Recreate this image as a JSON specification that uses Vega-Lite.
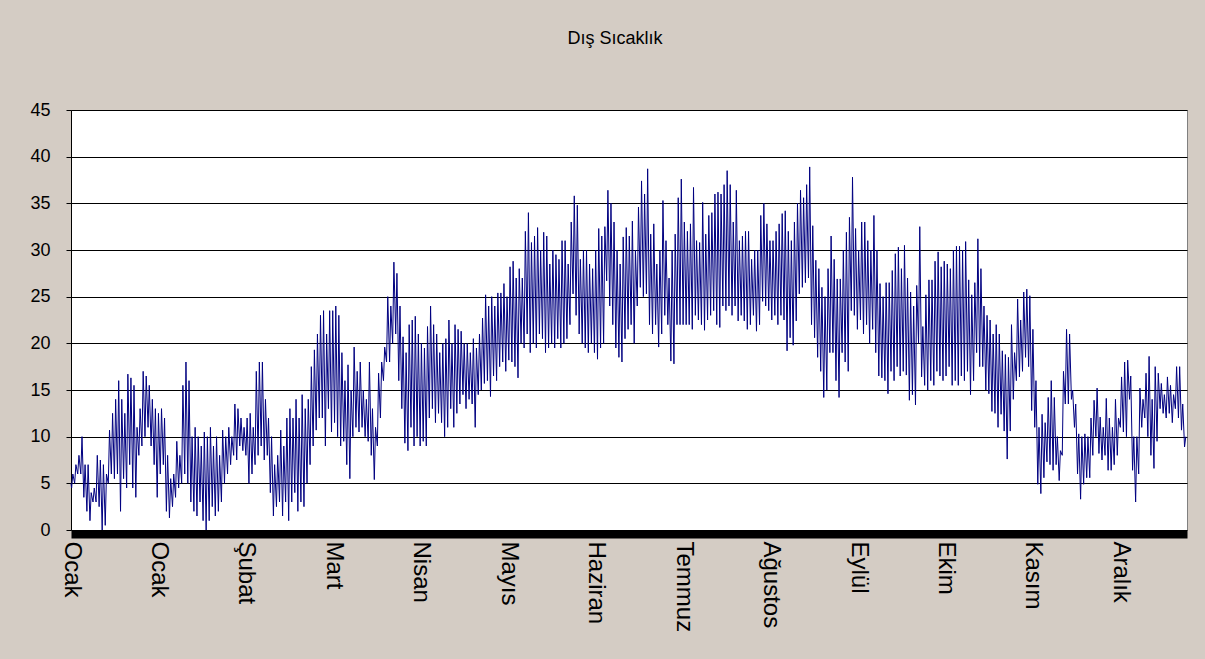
{
"$schema":"https://vega.github.io/schema/vega-lite/v6.json",
"width":1116,"height":420,
"autosize":{"type":"none"},
"padding":{"left":71,"top":110,"right":18,"bottom":129},
"background":"#d4ccc4",
"config":{"font":"Liberation Sans","view":{"stroke":"#808080","fill":"#ffffff","strokeWidth":1}},
"title":{"text":"Dış Sıcaklık","fontSize":18,"font":"Liberation Sans","fontWeight":"normal","color":"#000000","anchor":"middle","offset":53,"dx":-14},
"data":{"values":[
{"d":0,"t":5},{"d":0.2,"t":4.5},{"d":0.6,"t":6},{"d":1.2,"t":5},{"d":1.6,"t":7},{"d":2.2,"t":6},{"d":2.6,"t":8},{"d":3.2,"t":6},{"d":3.6,"t":10},{"d":4.2,"t":3.5},{"d":4.6,"t":7},{"d":5.2,"t":2},{"d":5.6,"t":7},{"d":6.2,"t":1},{"d":6.6,"t":4},{"d":7.2,"t":3},{"d":7.6,"t":4.5},{"d":8.2,"t":3},{"d":8.6,"t":8},{"d":9.2,"t":2.5},{"d":9.6,"t":7.5},
{"d":10.2,"t":0},{"d":10.6,"t":7},{"d":11.2,"t":0.5},{"d":11.6,"t":6},{"d":12.2,"t":5},{"d":12.6,"t":10.7},{"d":13.2,"t":6},{"d":13.6,"t":12.5},{"d":14.2,"t":5.5},{"d":14.6,"t":14},{"d":15.2,"t":6},{"d":15.6,"t":16},{"d":16.2,"t":2},{"d":16.6,"t":14},{"d":17.2,"t":5.5},{"d":17.6,"t":12.5},{"d":18.2,"t":4.5},{"d":18.6,"t":16.7},{"d":19.2,"t":7},{"d":19.6,"t":16.3},
{"d":20.2,"t":4.5},{"d":20.6,"t":15.5},{"d":21.2,"t":3.5},{"d":21.6,"t":11},{"d":22.2,"t":8},{"d":22.6,"t":13},{"d":23.2,"t":9},{"d":23.6,"t":17},{"d":24.2,"t":10},{"d":24.6,"t":16.5},{"d":25.2,"t":11},{"d":25.6,"t":15.5},{"d":26.2,"t":9},{"d":26.6,"t":14},{"d":27.2,"t":7},{"d":27.6,"t":13},{"d":28.2,"t":3.5},{"d":28.6,"t":12.5},{"d":29.2,"t":6},{"d":29.6,"t":13},
{"d":30.2,"t":7},{"d":30.6,"t":12},{"d":31.2,"t":2},{"d":31.6,"t":8},{"d":32.2,"t":1.3},{"d":32.6,"t":5.5},{"d":33.2,"t":2.5},{"d":33.6,"t":6},{"d":34.2,"t":3.5},{"d":34.6,"t":9.5},{"d":35.2,"t":4.5},{"d":35.6,"t":8},{"d":36.2,"t":5},{"d":36.6,"t":15.5},{"d":37.2,"t":6},{"d":37.6,"t":18},{"d":38.2,"t":5},{"d":38.6,"t":16},{"d":39.2,"t":3},{"d":39.6,"t":10},
{"d":40.2,"t":2},{"d":40.6,"t":11},{"d":41.2,"t":1.5},{"d":41.6,"t":10},{"d":42.2,"t":3},{"d":42.6,"t":9},{"d":43.2,"t":1},{"d":43.6,"t":10.5},{"d":44.2,"t":0},{"d":44.6,"t":10},{"d":45.2,"t":1},{"d":45.6,"t":11},{"d":46.2,"t":2.5},{"d":46.6,"t":9},{"d":47.2,"t":1.5},{"d":47.6,"t":10},{"d":48.2,"t":2},{"d":48.6,"t":8},{"d":49.2,"t":3},{"d":49.6,"t":10.7},
{"d":50.2,"t":5},{"d":50.6,"t":10},{"d":51.2,"t":6},{"d":51.6,"t":11},{"d":52.2,"t":7},{"d":52.6,"t":10},{"d":53.2,"t":8},{"d":53.6,"t":13.5},{"d":54.2,"t":7.5},{"d":54.6,"t":13},{"d":55.2,"t":9},{"d":55.6,"t":12},{"d":56.2,"t":8.5},{"d":56.6,"t":11},{"d":57.2,"t":8},{"d":57.6,"t":12},{"d":58.2,"t":5},{"d":58.6,"t":12.5},{"d":59.2,"t":6},{"d":59.6,"t":11},
{"d":60.2,"t":7},{"d":60.6,"t":17},{"d":61.2,"t":8},{"d":61.6,"t":18},{"d":62.2,"t":9},{"d":62.6,"t":18},{"d":63.2,"t":7.5},{"d":63.6,"t":14},{"d":64.2,"t":8},{"d":64.6,"t":12},{"d":65.2,"t":4},{"d":65.6,"t":10},{"d":66.2,"t":1.5},{"d":66.6,"t":7},{"d":67.2,"t":2.5},{"d":67.6,"t":8},{"d":68.2,"t":3},{"d":68.6,"t":10.7},{"d":69.2,"t":1.5},{"d":69.6,"t":9},
{"d":70.2,"t":3},{"d":70.6,"t":12},{"d":71.2,"t":1},{"d":71.6,"t":13},{"d":72.2,"t":3},{"d":72.6,"t":12},{"d":73.2,"t":4},{"d":73.6,"t":14},{"d":74.2,"t":2},{"d":74.6,"t":12},{"d":75.2,"t":3},{"d":75.6,"t":14.5},{"d":76.2,"t":2.5},{"d":76.6,"t":13},{"d":77.2,"t":5},{"d":77.6,"t":14},{"d":78.2,"t":7},{"d":78.6,"t":17.5},{"d":79.2,"t":9},{"d":79.6,"t":19.3},
{"d":80.2,"t":10.7},{"d":80.6,"t":21},{"d":81.2,"t":12},{"d":81.6,"t":23},{"d":82.2,"t":12},{"d":82.6,"t":23.5},{"d":83.2,"t":9},{"d":83.6,"t":21},{"d":84.2,"t":13},{"d":84.6,"t":23.5},{"d":85.2,"t":10.5},{"d":85.6,"t":23.5},{"d":86.2,"t":11.5},{"d":86.6,"t":24},{"d":87.2,"t":10},{"d":87.6,"t":23},{"d":88.2,"t":9},{"d":88.6,"t":19},{"d":89.2,"t":9.5},{"d":89.6,"t":16},
{"d":90.2,"t":7},{"d":90.6,"t":17.7},{"d":91.2,"t":5.5},{"d":91.6,"t":15},{"d":92.2,"t":10},{"d":92.6,"t":19.6},{"d":93.2,"t":11},{"d":93.6,"t":17},{"d":94.2,"t":10.5},{"d":94.6,"t":18},{"d":95.2,"t":11},{"d":95.6,"t":15},{"d":96.2,"t":10},{"d":96.6,"t":14},{"d":97.2,"t":9.5},{"d":97.6,"t":18},{"d":98.2,"t":8},{"d":98.6,"t":13},{"d":99.2,"t":5.4},{"d":99.6,"t":11},
{"d":100.2,"t":9},{"d":100.6,"t":16.8},{"d":101.2,"t":12},{"d":101.6,"t":18},{"d":102.2,"t":16},{"d":102.6,"t":19.6},{"d":103.2,"t":18},{"d":103.6,"t":25},{"d":104.2,"t":18},{"d":104.6,"t":24},{"d":105.2,"t":20},{"d":105.6,"t":28.7},{"d":106.2,"t":21},{"d":106.6,"t":27.5},{"d":107.2,"t":16},{"d":107.6,"t":24},{"d":108.2,"t":13},{"d":108.6,"t":20.7},{"d":109.2,"t":9.3},{"d":109.6,"t":19},
{"d":110.2,"t":8.5},{"d":110.6,"t":22},{"d":111.2,"t":11},{"d":111.6,"t":22.5},{"d":112.2,"t":9},{"d":112.6,"t":22.9},{"d":113.2,"t":10},{"d":113.6,"t":21},{"d":114.2,"t":9},{"d":114.6,"t":20},{"d":115.2,"t":9.5},{"d":115.6,"t":19.5},{"d":116.2,"t":9},{"d":116.6,"t":21.8},{"d":117.2,"t":12},{"d":117.6,"t":24},{"d":118.2,"t":13},{"d":118.6,"t":22},{"d":119.2,"t":11.5},{"d":119.6,"t":21},
{"d":120.2,"t":12.5},{"d":120.6,"t":19},{"d":121.2,"t":11.5},{"d":121.6,"t":20},{"d":122.2,"t":10},{"d":122.6,"t":20.5},{"d":123.2,"t":11},{"d":123.6,"t":22.5},{"d":124.2,"t":13},{"d":124.6,"t":20},{"d":125.2,"t":11},{"d":125.6,"t":22},{"d":126.2,"t":12.5},{"d":126.6,"t":21.5},{"d":127.2,"t":13.5},{"d":127.6,"t":21.3},{"d":128.2,"t":14.5},{"d":128.6,"t":20},{"d":129.2,"t":13},{"d":129.6,"t":20},
{"d":130.2,"t":14},{"d":130.6,"t":19},{"d":131.2,"t":13.5},{"d":131.6,"t":20.5},{"d":132.2,"t":11},{"d":132.6,"t":19.5},{"d":133.2,"t":14.5},{"d":133.6,"t":21},{"d":134.2,"t":15},{"d":134.6,"t":22.7},{"d":135.2,"t":15.7},{"d":135.6,"t":25.2},{"d":136.2,"t":16},{"d":136.6,"t":24},{"d":137.2,"t":14.3},{"d":137.6,"t":25},{"d":138.2,"t":16.5},{"d":138.6,"t":24},{"d":139.2,"t":16},{"d":139.6,"t":25.4},
{"d":140.2,"t":17.5},{"d":140.6,"t":25.4},{"d":141.2,"t":18},{"d":141.6,"t":26.4},{"d":142.2,"t":17},{"d":142.6,"t":25},{"d":143.2,"t":18.2},{"d":143.6,"t":28.2},{"d":144.2,"t":18},{"d":144.6,"t":28.8},{"d":145.2,"t":17.5},{"d":145.6,"t":27},{"d":146.2,"t":16.3},{"d":146.6,"t":28},{"d":147.2,"t":20},{"d":147.6,"t":27},{"d":148.2,"t":19.5},{"d":148.6,"t":32},{"d":149.2,"t":21},{"d":149.6,"t":34},
{"d":150.2,"t":19},{"d":150.6,"t":30.8},{"d":151.2,"t":20},{"d":151.6,"t":31.5},{"d":152.2,"t":19.5},{"d":152.6,"t":32.4},{"d":153.2,"t":21},{"d":153.6,"t":30},{"d":154.2,"t":20.5},{"d":154.6,"t":31.9},{"d":155.2,"t":19},{"d":155.6,"t":31.5},{"d":156.2,"t":19.5},{"d":156.6,"t":28.5},{"d":157.2,"t":20},{"d":157.6,"t":30},{"d":158.2,"t":19.5},{"d":158.6,"t":29.5},{"d":159.2,"t":20.5},{"d":159.6,"t":29},
{"d":160.2,"t":19.5},{"d":160.6,"t":31},{"d":161.2,"t":20},{"d":161.6,"t":31},{"d":162.2,"t":20.5},{"d":162.6,"t":28.5},{"d":163.2,"t":22},{"d":163.6,"t":33},{"d":164.2,"t":25.3},{"d":164.6,"t":35.8},{"d":165.2,"t":23},{"d":165.6,"t":34.8},{"d":166.2,"t":21},{"d":166.6,"t":29},{"d":167.2,"t":20},{"d":167.6,"t":30},{"d":168.2,"t":19.5},{"d":168.6,"t":30},{"d":169.2,"t":19},{"d":169.6,"t":28.5},
{"d":170.2,"t":20},{"d":170.6,"t":28},{"d":171.2,"t":19},{"d":171.6,"t":30},{"d":172.2,"t":18.3},{"d":172.6,"t":32.3},{"d":173.2,"t":19.5},{"d":173.6,"t":31.5},{"d":174.2,"t":20},{"d":174.6,"t":32.5},{"d":175.2,"t":26.7},{"d":175.6,"t":36.4},{"d":176.2,"t":24},{"d":176.6,"t":35},{"d":177.2,"t":22},{"d":177.6,"t":33},{"d":178.2,"t":19.5},{"d":178.6,"t":30},{"d":179.2,"t":18.5},{"d":179.6,"t":28.5},
{"d":180.2,"t":18},{"d":180.6,"t":31.4},{"d":181.2,"t":20.5},{"d":181.6,"t":32.4},{"d":182.2,"t":21.5},{"d":182.6,"t":31.5},{"d":183.2,"t":22},{"d":183.6,"t":33.1},{"d":184.2,"t":20},{"d":184.6,"t":30},{"d":185.2,"t":24},{"d":185.6,"t":34.6},{"d":186.2,"t":26},{"d":186.6,"t":37.4},{"d":187.2,"t":25},{"d":187.6,"t":36},{"d":188.2,"t":25.3},{"d":188.6,"t":38.7},{"d":189.2,"t":22},{"d":189.6,"t":31.7},
{"d":190.2,"t":21},{"d":190.6,"t":32.8},{"d":191.2,"t":22},{"d":191.6,"t":28.5},{"d":192.2,"t":19.6},{"d":192.6,"t":30},{"d":193.2,"t":21},{"d":193.6,"t":35.3},{"d":194.2,"t":23},{"d":194.6,"t":31},{"d":195.2,"t":22},{"d":195.6,"t":27},{"d":196.2,"t":18.1},{"d":196.6,"t":30},{"d":197.2,"t":17.8},{"d":197.6,"t":31.7},{"d":198.2,"t":22},{"d":198.6,"t":35.6},{"d":199.2,"t":22},{"d":199.6,"t":37.6},
{"d":200.2,"t":22},{"d":200.6,"t":33},{"d":201.2,"t":22},{"d":201.6,"t":32},{"d":202.2,"t":22},{"d":202.6,"t":32.8},{"d":203.2,"t":21.5},{"d":203.6,"t":36.7},{"d":204.2,"t":23},{"d":204.6,"t":31},{"d":205.2,"t":22.5},{"d":205.6,"t":30.8},{"d":206.2,"t":22},{"d":206.6,"t":35.1},{"d":207.2,"t":21.4},{"d":207.6,"t":31.7},{"d":208.2,"t":22.5},{"d":208.6,"t":33.7},{"d":209.2,"t":23},{"d":209.6,"t":34},
{"d":210.2,"t":23.5},{"d":210.6,"t":36},{"d":211.2,"t":22},{"d":211.6,"t":36.2},{"d":212.2,"t":21.7},{"d":212.6,"t":36},{"d":213.2,"t":24},{"d":213.6,"t":37},{"d":214.2,"t":23.5},{"d":214.6,"t":38.5},{"d":215.2,"t":24},{"d":215.6,"t":37},{"d":216.2,"t":23},{"d":216.6,"t":33},{"d":217.2,"t":24},{"d":217.6,"t":36.4},{"d":218.2,"t":22.4},{"d":218.6,"t":31},{"d":219.2,"t":23},{"d":219.6,"t":31.5},
{"d":220.2,"t":22.4},{"d":220.6,"t":32},{"d":221.2,"t":21.5},{"d":221.6,"t":32},{"d":222.2,"t":22},{"d":222.6,"t":29},{"d":223.2,"t":23},{"d":223.6,"t":30},{"d":224.2,"t":21.3},{"d":224.6,"t":30},{"d":225.2,"t":22},{"d":225.6,"t":33.7},{"d":226.2,"t":24.5},{"d":226.6,"t":35},{"d":227.2,"t":24},{"d":227.6,"t":32.8},{"d":228.2,"t":23.5},{"d":228.6,"t":31},{"d":229.2,"t":22.5},{"d":229.6,"t":31},
{"d":230.2,"t":23},{"d":230.6,"t":32},{"d":231.2,"t":22},{"d":231.6,"t":32.8},{"d":232.2,"t":23},{"d":232.6,"t":33.9},{"d":233.2,"t":22.5},{"d":233.6,"t":34.2},{"d":234.2,"t":19.2},{"d":234.6,"t":32},{"d":235.2,"t":20.6},{"d":235.6,"t":31},{"d":236.2,"t":19.8},{"d":236.6,"t":33},{"d":237.2,"t":22.4},{"d":237.6,"t":35},{"d":238.2,"t":25.3},{"d":238.6,"t":36.4},{"d":239.2,"t":26},{"d":239.6,"t":35.6},
{"d":240.2,"t":26.5},{"d":240.6,"t":37},{"d":241.2,"t":27},{"d":241.6,"t":38.9},{"d":242.2,"t":22},{"d":242.6,"t":32.6},{"d":243.2,"t":20.6},{"d":243.6,"t":28.9},{"d":244.2,"t":18.5},{"d":244.6,"t":28},{"d":245.2,"t":17},{"d":245.6,"t":26},{"d":246.2,"t":14.2},{"d":246.6,"t":25},{"d":247.2,"t":15},{"d":247.6,"t":28},{"d":248.2,"t":19},{"d":248.6,"t":31.5},{"d":249.2,"t":19},{"d":249.6,"t":29},
{"d":250.2,"t":16},{"d":250.6,"t":26.9},{"d":251.2,"t":14.2},{"d":251.6,"t":26.9},{"d":252.2,"t":19},{"d":252.6,"t":30},{"d":253.2,"t":18},{"d":253.6,"t":31.9},{"d":254.2,"t":17},{"d":254.6,"t":33.5},{"d":255.2,"t":23.5},{"d":255.6,"t":37.8},{"d":256.2,"t":23},{"d":256.6,"t":32.3},{"d":257.2,"t":21.5},{"d":257.6,"t":30},{"d":258.2,"t":22.5},{"d":258.6,"t":33},{"d":259.2,"t":21},{"d":259.6,"t":33},
{"d":260.2,"t":22},{"d":260.6,"t":31},{"d":261.2,"t":20},{"d":261.6,"t":30},{"d":262.2,"t":21.5},{"d":262.6,"t":33.7},{"d":263.2,"t":19},{"d":263.6,"t":30},{"d":264.2,"t":16.5},{"d":264.6,"t":26.4},{"d":265.2,"t":16.3},{"d":265.6,"t":25},{"d":266.2,"t":16},{"d":266.6,"t":26.5},{"d":267.2,"t":14.6},{"d":267.6,"t":26.5},{"d":268.2,"t":17},{"d":268.6,"t":27.8},{"d":269.2,"t":16},{"d":269.6,"t":29.6},
{"d":270.2,"t":17.5},{"d":270.6,"t":30.3},{"d":271.2,"t":16.5},{"d":271.6,"t":28},{"d":272.2,"t":17},{"d":272.6,"t":30.5},{"d":273.2,"t":16.6},{"d":273.6,"t":27},{"d":274.2,"t":13.9},{"d":274.6,"t":25.5},{"d":275.2,"t":14.5},{"d":275.6,"t":24},{"d":276.2,"t":13.4},{"d":276.6,"t":26.2},{"d":277.2,"t":20},{"d":277.6,"t":32.5},{"d":278.2,"t":16.4},{"d":278.6,"t":21.8},{"d":279.2,"t":15.5},{"d":279.6,"t":25.2},
{"d":280.2,"t":15},{"d":280.6,"t":26.8},{"d":281.2,"t":16},{"d":281.6,"t":26.8},{"d":282.2,"t":15.5},{"d":282.6,"t":28.8},{"d":283.2,"t":17},{"d":283.6,"t":29.8},{"d":284.2,"t":16.5},{"d":284.6,"t":28.2},{"d":285.2,"t":16},{"d":285.6,"t":28.8},{"d":286.2,"t":16.5},{"d":286.6,"t":28.5},{"d":287.2,"t":17.5},{"d":287.6,"t":28},{"d":288.2,"t":15.5},{"d":288.6,"t":30},{"d":289.2,"t":16},{"d":289.6,"t":30.4},
{"d":290.2,"t":15.5},{"d":290.6,"t":30.4},{"d":291.2,"t":16.5},{"d":291.6,"t":30},{"d":292.2,"t":16},{"d":292.6,"t":30.9},{"d":293.2,"t":17},{"d":293.6,"t":26.8},{"d":294.2,"t":14.5},{"d":294.6,"t":25.2},{"d":295.2,"t":16},{"d":295.6,"t":26.5},{"d":296.2,"t":19},{"d":296.6,"t":31.2},{"d":297.2,"t":17.5},{"d":297.6,"t":28},{"d":298.2,"t":17.5},{"d":298.6,"t":24},{"d":299.2,"t":15},{"d":299.6,"t":23},
{"d":300.2,"t":14.6},{"d":300.6,"t":22.5},{"d":301.2,"t":12.7},{"d":301.6,"t":21},{"d":302.2,"t":12.5},{"d":302.6,"t":22},{"d":303.2,"t":11},{"d":303.6,"t":21},{"d":304.2,"t":12.4},{"d":304.6,"t":19.2},{"d":305.2,"t":10.6},{"d":305.6,"t":18.8},{"d":306.2,"t":7.6},{"d":306.6,"t":18.5},{"d":307.2,"t":10.6},{"d":307.6,"t":22},{"d":308.2,"t":14},{"d":308.6,"t":19},{"d":309.2,"t":16},{"d":309.6,"t":24.75},
{"d":310.2,"t":16.4},{"d":310.6,"t":22.5},{"d":311.2,"t":17},{"d":311.6,"t":25.5},{"d":312.2,"t":18.5},{"d":312.6,"t":25.8},{"d":313.2,"t":17.5},{"d":313.6,"t":25.1},{"d":314.2,"t":12.8},{"d":314.6,"t":21.5},{"d":315.2,"t":11},{"d":315.6,"t":16},{"d":316.2,"t":4.9},{"d":316.6,"t":11},{"d":317.2,"t":3.9},{"d":317.6,"t":12.4},{"d":318.2,"t":5.6},{"d":318.6,"t":11.5},{"d":319.2,"t":7.3},{"d":319.6,"t":14.2},
{"d":320.2,"t":7},{"d":320.6,"t":16},{"d":321.2,"t":6.4},{"d":321.6,"t":14.2},{"d":322.2,"t":7},{"d":322.6,"t":10},{"d":323.2,"t":5.3},{"d":323.6,"t":8.5},{"d":324.2,"t":8},{"d":324.6,"t":17},{"d":325.2,"t":13.5},{"d":325.6,"t":21.5},{"d":326.2,"t":13.5},{"d":326.6,"t":21},{"d":327.2,"t":14},{"d":327.6,"t":15},{"d":328.2,"t":11},{"d":328.6,"t":13.5},{"d":329.2,"t":6},{"d":329.6,"t":10.3},
{"d":330.2,"t":3.3},{"d":330.6,"t":10},{"d":331.2,"t":4.9},{"d":331.6,"t":10.3},{"d":332.2,"t":5.6},{"d":332.6,"t":10},{"d":333.2,"t":5.6},{"d":333.6,"t":12},{"d":334.2,"t":8},{"d":334.6,"t":13.9},{"d":335.2,"t":10},{"d":335.6,"t":15.2},{"d":336.2,"t":8.2},{"d":336.6,"t":12.1},{"d":337.2,"t":7.5},{"d":337.6,"t":11},{"d":338.2,"t":8},{"d":338.6,"t":14.1},{"d":339.2,"t":6.4},{"d":339.6,"t":12},
{"d":340.2,"t":6.4},{"d":340.6,"t":11},{"d":341.2,"t":7},{"d":341.6,"t":14},{"d":342.2,"t":8},{"d":342.6,"t":12},{"d":343.2,"t":11},{"d":343.6,"t":16.4},{"d":344.2,"t":10.5},{"d":344.6,"t":18},{"d":345.2,"t":10},{"d":345.6,"t":18.2},{"d":346.2,"t":14},{"d":346.6,"t":16.5},{"d":347.2,"t":6.4},{"d":347.6,"t":10},{"d":348.2,"t":3},{"d":348.6,"t":10},{"d":349.2,"t":6},{"d":349.6,"t":15.2},
{"d":350.2,"t":11},{"d":350.6,"t":14},{"d":351.2,"t":12},{"d":351.6,"t":16.8},{"d":352.2,"t":10},{"d":352.6,"t":18.6},{"d":353.2,"t":8},{"d":353.6,"t":14},{"d":354.2,"t":6.6},{"d":354.6,"t":17.5},{"d":355.2,"t":9.5},{"d":355.6,"t":16.8},{"d":356.2,"t":13},{"d":356.6,"t":15.7},{"d":357.2,"t":12.5},{"d":357.6,"t":14.5},{"d":358.2,"t":12},{"d":358.6,"t":16.4},{"d":359.2,"t":12.5},{"d":359.6,"t":15.5},
{"d":360.2,"t":11.5},{"d":360.6,"t":14.5},{"d":361.2,"t":13},{"d":361.6,"t":17.5},{"d":362.2,"t":12},{"d":362.6,"t":17.5},{"d":363.2,"t":10.7},{"d":363.6,"t":13.5},{"d":364.2,"t":8.9},{"d":364.6,"t":10}
]},
"mark":{"type":"line","color":"#000080","strokeWidth":1,"interpolate":"linear"},
"encoding":{
"x":{"field":"d","type":"quantitative","scale":{"domain":[0,365],"nice":false,"zero":false},
"axis":{"title":null,"values":[0,28.6,57.2,85.8,114.4,143,171.6,200.2,228.8,257.4,286,314.6,343.2],
"labelExpr":"['Ocak','Ocak','Şubat','Mart','Nisan','Mayıs','Haziran','Temmuz','Ağustos','Eylül','Ekim','Kasım','Aralık'][round(datum.value/28.6)]",
"labelAngle":90,"labelAlign":"left","labelBaseline":"middle","labelFontSize":24,"labelFont":"Liberation Sans","labelColor":"#000000","labelPadding":7,"labelOverlap":false,"labelFlush":false,"labelBound":false,
"ticks":false,"grid":false,"domainColor":"#000000","domainWidth":8,"offset":4}},
"y":{"field":"t","type":"quantitative","scale":{"domain":[0,45],"nice":false,"zero":true},
"axis":{"title":null,"values":[0,5,10,15,20,25,30,35,40,45],"grid":true,"gridColor":"#000000","gridOpacity":1,"gridWidth":1,
"labelFontSize":18,"labelFont":"Liberation Sans","labelColor":"#000000","labelPadding":16,"tickColor":"#000000","tickSize":5,"domainColor":"#000000"}}
}
}
